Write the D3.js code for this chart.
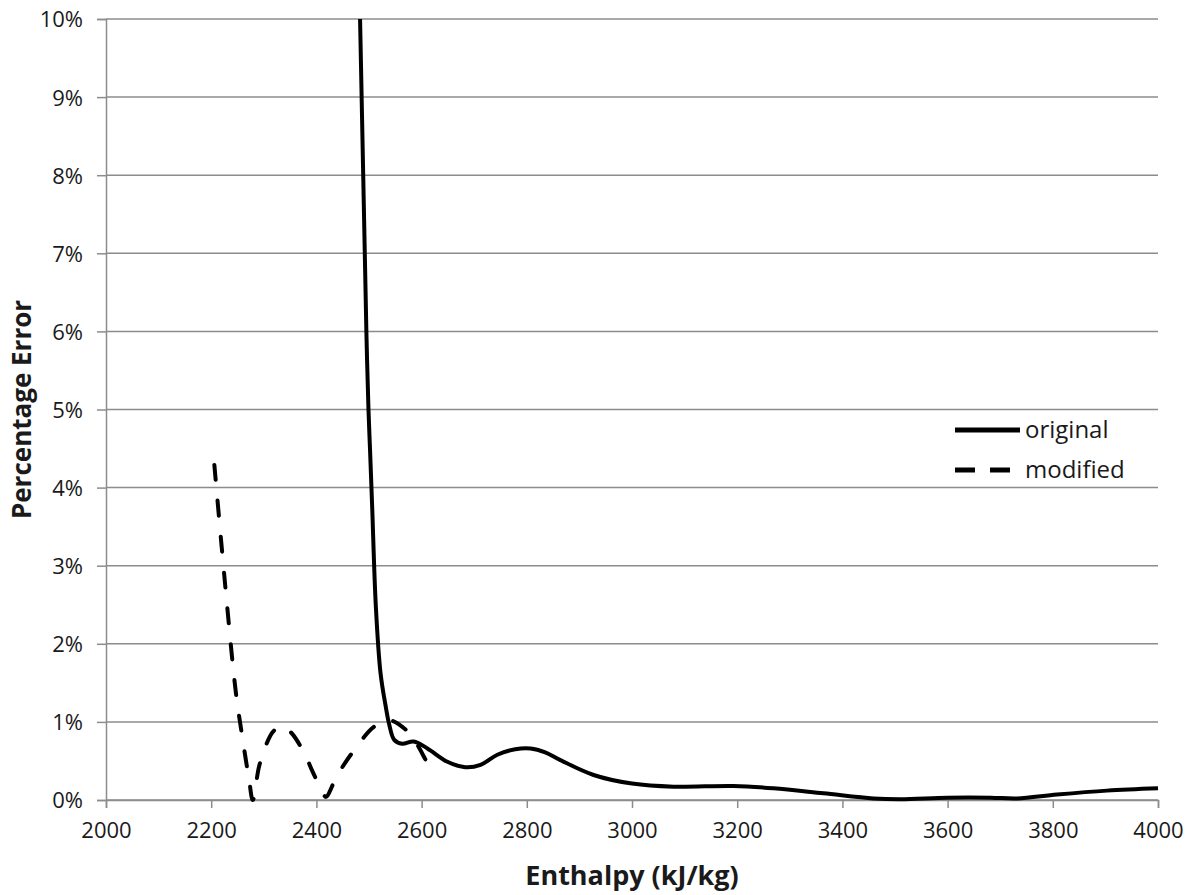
<!DOCTYPE html>
<html>
<head>
<meta charset="utf-8">
<script src="https://cdn.jsdelivr.net/npm/d3@7"></script>
<style>
  body { margin: 0; background: #fff; }
  svg { display: block; }
  text { font-family: "Open Sans", "Liberation Sans", sans-serif; fill: #1a1a1a; }
</style>
</head>
<body>
<svg id="chart" width="1195" height="895"></svg>
<script>
// ---- data ----
const xTicks = [2000, 2200, 2400, 2600, 2800, 3000, 3200, 3400, 3600, 3800, 4000];
const yTicks = [0, 0.01, 0.02, 0.03, 0.04, 0.05, 0.06, 0.07, 0.08, 0.09, 0.10];

const originalX = [2483, 2486, 2489, 2492, 2495, 2499, 2502, 2506, 2513, 2522, 2532, 2538, 2548, 2563, 2585, 2611, 2649, 2683, 2712, 2744, 2778, 2807, 2835, 2864, 2927, 3000, 3079, 3193, 3269, 3364, 3459, 3510, 3600, 3682, 3732, 3808, 3903, 4000];
const originalY = [0.100, 0.090, 0.080, 0.070, 0.060, 0.050, 0.0448, 0.0376, 0.0248, 0.0162, 0.0119, 0.0098, 0.0077, 0.0072, 0.0075, 0.0066, 0.0049, 0.0042, 0.0045, 0.0058, 0.0065, 0.0066, 0.0061, 0.0051, 0.0032, 0.0021, 0.0017, 0.0018, 0.0015, 0.00086, 0.0002, 0.0001, 0.0003, 0.0003, 0.0002, 0.0007, 0.0012, 0.0015];

const modifiedX = [2206, 2228, 2247, 2260, 2272, 2279, 2291, 2304, 2317, 2332, 2351, 2377, 2393, 2412, 2418, 2440, 2472, 2510, 2540, 2570, 2586, 2608, 2620];
const modifiedY = [0.0429, 0.0265, 0.0137, 0.0077, 0.0026, 0.0000, 0.0043, 0.0070, 0.0087, 0.0095, 0.0087, 0.0060, 0.0036, 0.0010, 0.0004, 0.0032, 0.0064, 0.0094, 0.0102, 0.0090, 0.0077, 0.0051, 0.0036];

const seriesNames = ["original", "modified"];
const xTitle = "Enthalpy (kJ/kg)";
const yTitle = "Percentage Error";

// ---- layout ----
const svg = d3.select("#chart");
const m = { left: 106, right: 1158, top: 19, bottom: 800 };
const x = d3.scaleLinear().domain([2000, 4000]).range([m.left, m.right]);
const y = d3.scaleLinear().domain([0, 0.10]).range([m.bottom, m.top]);
const gridColor = "#8c8c8c";

// gridlines
svg.append("g").selectAll("line").data(yTicks).join("line")
  .attr("x1", m.left).attr("x2", m.right)
  .attr("y1", d => y(d)).attr("y2", d => y(d))
  .attr("stroke", gridColor).attr("stroke-width", 1.5);

// y axis
const yAxis = svg.append("g").attr("transform", `translate(${m.left},0)`)
  .call(d3.axisLeft(y).tickValues(yTicks).tickFormat(d3.format(".0%")).tickSize(9).tickPadding(14));
// x axis
const xAxis = svg.append("g").attr("transform", `translate(0,${m.bottom})`)
  .call(d3.axisBottom(x).tickValues(xTicks).tickFormat(d3.format("d")).tickSize(8).tickPadding(14));

[yAxis, xAxis].forEach(g => {
  g.attr("font-size", 22);
  g.select(".domain").attr("stroke", gridColor).attr("stroke-width", 1.5);
  g.selectAll(".tick line").attr("stroke", gridColor).attr("stroke-width", 1.5);
  g.selectAll(".tick text").style("font-size", "22px").attr("font-family", "'Open Sans', sans-serif").attr("fill", "#1a1a1a");
});
yAxis.selectAll(".tick text").attr("dy", "0.36em");

// lines
const line = d3.line().x(d => x(d[0])).y(d => y(d[1])).curve(d3.curveCatmullRom.alpha(0.5));
const origData = originalX.map((v, i) => [v, originalY[i]]);
const modData = modifiedX.map((v, i) => [v, modifiedY[i]]);

svg.append("path").datum(modData).attr("d", line)
  .attr("fill", "none").attr("stroke", "#000").attr("stroke-width", 4)
  .attr("stroke-dasharray", "15,21").attr("stroke-linecap", "round");

svg.append("path").datum(origData).attr("d", line)
  .attr("fill", "none").attr("stroke", "#000").attr("stroke-width", 4)
  .attr("stroke-linejoin", "round");

// legend
const leg = svg.append("g");
leg.append("line").attr("x1", 955).attr("x2", 1020).attr("y1", 430).attr("y2", 430)
  .attr("stroke", "#000").attr("stroke-width", 5);
leg.append("line").attr("x1", 955).attr("x2", 1012).attr("y1", 470).attr("y2", 470)
  .attr("stroke", "#000").attr("stroke-width", 5).attr("stroke-dasharray", "20,15");
leg.selectAll("text").data(seriesNames).join("text")
  .attr("x", 1025).attr("y", (d, i) => 430 + i * 40).attr("dy", "0.35em")
  .attr("font-size", 24).text(d => d);

// titles
svg.append("text").attr("x", (m.left + m.right) / 2).attr("y", 885)
  .attr("text-anchor", "middle").attr("font-size", 27).attr("font-weight", "bold").text(xTitle);
svg.append("text").attr("transform", `translate(31,${(m.top + m.bottom) / 2}) rotate(-90)`)
  .attr("text-anchor", "middle").attr("font-size", 26).attr("font-weight", "bold").text(yTitle);
</script>
</body>
</html>
